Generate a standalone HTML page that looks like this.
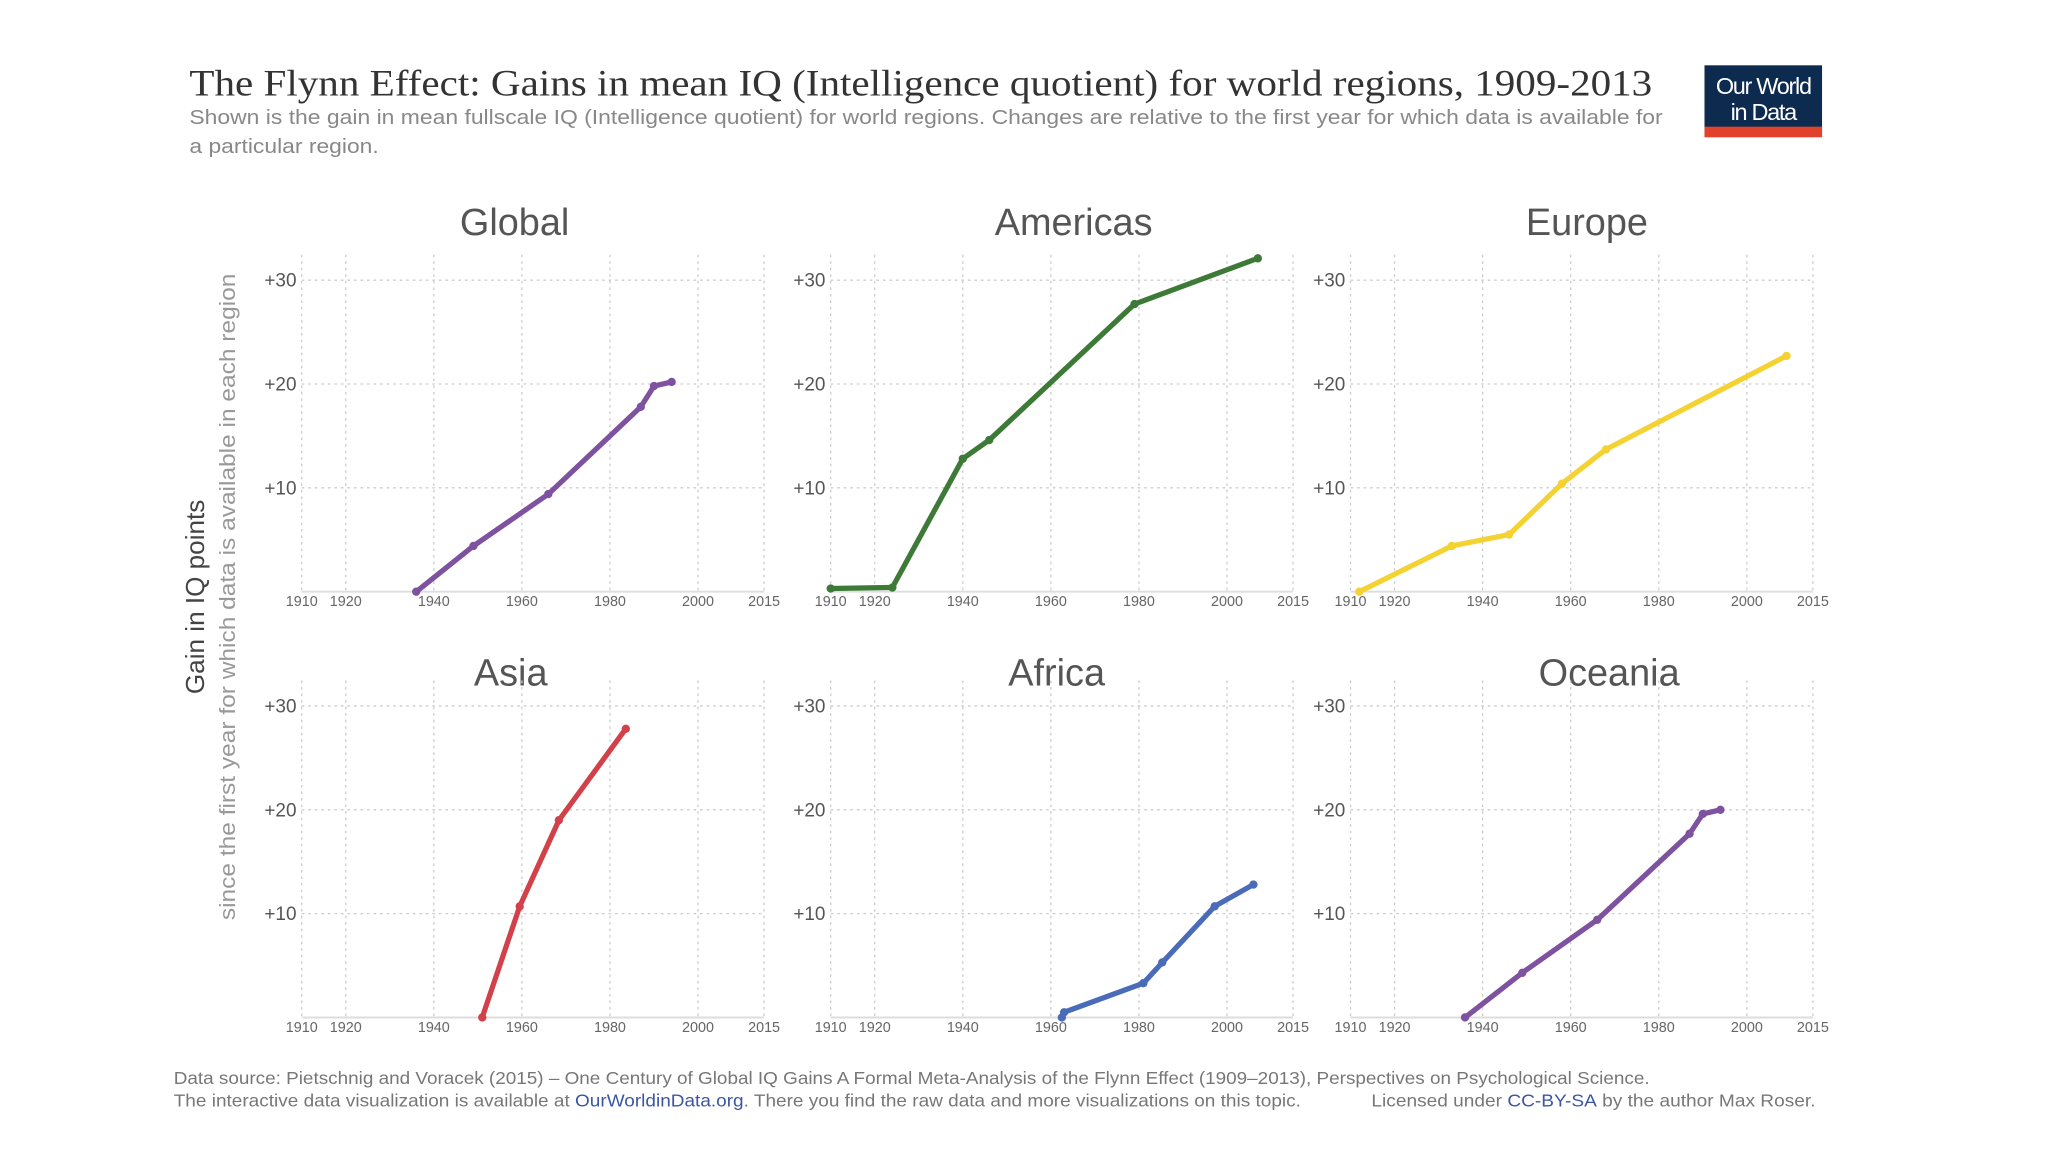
<!DOCTYPE html>
<html><head><meta charset="utf-8"><style>
html,body{margin:0;padding:0;background:#fff;}
svg{display:block;font-family:"Liberation Sans",sans-serif;}
</style></head><body>
<svg id="chart" width="2048" height="1152" viewBox="0 0 1568 882" xmlns="http://www.w3.org/2000/svg">
<text x="145" y="73" font-family="Liberation Serif, serif" font-size="28" fill="#333" textLength="1120" lengthAdjust="spacingAndGlyphs">The Flynn Effect: Gains in mean IQ (Intelligence quotient) for world regions, 1909-2013</text>
<text x="145" y="95" font-size="15.5" fill="#888" textLength="1128" lengthAdjust="spacingAndGlyphs">Shown is the gain in mean fullscale IQ (Intelligence quotient) for world regions. Changes are relative to the first year for which data is available for</text>
<text x="145" y="117" font-size="15.5" fill="#888" textLength="145" lengthAdjust="spacingAndGlyphs">a particular region.</text>
<g>
<rect x="1305" y="50" width="90" height="55" fill="#0d2b4f"/>
<rect x="1305" y="97" width="90" height="8" fill="#e2412b"/>
<text x="1350" y="72" text-anchor="middle" font-size="18" fill="#fff" letter-spacing="-1">Our World</text>
<text x="1350" y="92" text-anchor="middle" font-size="18" fill="#fff" letter-spacing="-1">in Data</text>
</g>
<text transform="translate(156,457) rotate(-90)" text-anchor="middle" font-size="20" fill="#444">Gain in IQ points</text>
<text transform="translate(180,457) rotate(-90)" text-anchor="middle" font-size="17" fill="#999" textLength="495" lengthAdjust="spacingAndGlyphs">since the first year for which data is available in each region</text>
<g id="panels"></g>
<text x="133" y="830" font-size="13.5" fill="#777" textLength="1130" lengthAdjust="spacingAndGlyphs">Data source: Pietschnig and Voracek (2015) – One Century of Global IQ Gains A Formal Meta-Analysis of the Flynn Effect (1909–2013), Perspectives on Psychological Science.</text>
<text x="133" y="847" font-size="13.5" fill="#777" textLength="863" lengthAdjust="spacingAndGlyphs">The interactive data visualization is available at <tspan fill="#3b57a3">OurWorldinData.org</tspan>. There you find the raw data and more visualizations on this topic.</text>
<text x="1050" y="847" font-size="13.5" fill="#777" textLength="340" lengthAdjust="spacingAndGlyphs">Licensed under <tspan fill="#3b57a3">CC-BY-SA</tspan> by the author Max Roser.</text>
</svg>
<script>
const regions = ["Global","Americas","Europe","Asia","Africa","Oceania"];
const colors = ["#7e529e","#3d7a38","#f4d232","#d2404a","#4a6cb8","#7e529e"];
const xTicks = [1910,1920,1940,1960,1980,2000,2015];
const yTicks = [10,20,30];
const globalYears = [1936,1949,1966,1987,1990,1994];
const globalGains = [0,4.4,9.4,17.8,19.8,20.2];
const americasYears = [1910,1924,1940,1946,1979,2007];
const americasGains = [0.3,0.4,12.8,14.6,27.7,32.1];
const europeYears = [1912,1933,1946,1958,1968,2009];
const europeGains = [0,4.4,5.5,10.4,13.7,22.7];
const asiaYears = [1951,1959.5,1968.4,1983.6];
const asiaGains = [0,10.7,19,27.8];
const africaYears = [1962.5,1963,1981,1985.3,1997.2,2006];
const africaGains = [0,0.5,3.3,5.3,10.7,12.8];
const oceaniaYears = [1936,1949,1966,1987,1990,1994];
const oceaniaGains = [0,4.3,9.4,17.7,19.6,20];
const seriesYears = [globalYears,americasYears,europeYears,asiaYears,africaYears,oceaniaYears];
const seriesGains = [globalGains,americasGains,europeGains,asiaGains,africaGains,oceaniaGains];

const NS="http://www.w3.org/2000/svg";
const root=document.getElementById('panels');
function mk(tag,attrs,parent){const e=document.createElementNS(NS,tag);for(const k in attrs)e.setAttribute(k,attrs[k]);parent.appendChild(e);return e;}
const colX=[231,636,1034], rowY0=[453,779], titleY=[180,525], titleX=[394,822,1215,391,809,1232];
const W=354, PPY=W/105, PPV=7.95;
regions.forEach((name,i)=>{
  const c=i%3,r=Math.floor(i/3);
  const x0=colX[c], y0=rowY0[r];
  const sx=y=>x0+(y-1910)*PPY, sy=v=>y0-v*PPV;
  const g=mk('g',{},root);
  
  
  const t=mk('text',{x:titleX[i],y:titleY[r],'text-anchor':'middle','font-size':29,fill:'#555'},g);
  t.textContent=name;
  
  
  xTicks.forEach(yr=>{
    const gl=mk('line',{x1:sx(yr),x2:sx(yr),y1:y0-258,y2:y0,stroke:'#ccc','stroke-dasharray':'2,3','stroke-width':1},g);
    
    
    const tl=mk('text',{x:sx(yr),y:y0+11,'text-anchor':'middle','font-size':11,fill:'#666'},g);
    tl.textContent=yr;
    
    
  });
  yTicks.forEach(v=>{
    const gl=mk('line',{x1:x0,x2:x0+W,y1:sy(v),y2:sy(v),stroke:'#ccc','stroke-dasharray':'2,3','stroke-width':1},g);
    
    
    const tl=mk('text',{x:x0-4,y:sy(v)+5,'text-anchor':'end','font-size':14.5,fill:'#555'},g);
    tl.textContent='+'+v;
    
    
  });
  const ax=mk('line',{x1:x0,x2:x0+W,y1:y0,y2:y0,stroke:'#ddd','stroke-width':1.5},g);
  
  
  const yrs=seriesYears[i], gs=seriesGains[i];
  const pts=yrs.map((y,k)=>sx(y).toFixed(1)+','+sy(gs[k]).toFixed(1)).join(' ');
  const pl=mk('polyline',{points:pts,fill:'none',stroke:colors[i],'stroke-width':4,'stroke-linejoin':'round','stroke-linecap':'round'},g);
  
  
  yrs.forEach((y,k)=>{
    const d=mk('circle',{cx:sx(y),cy:sy(gs[k]),r:3.2,fill:colors[i]},g);
    
    
  });
});
</script>
</body></html>
